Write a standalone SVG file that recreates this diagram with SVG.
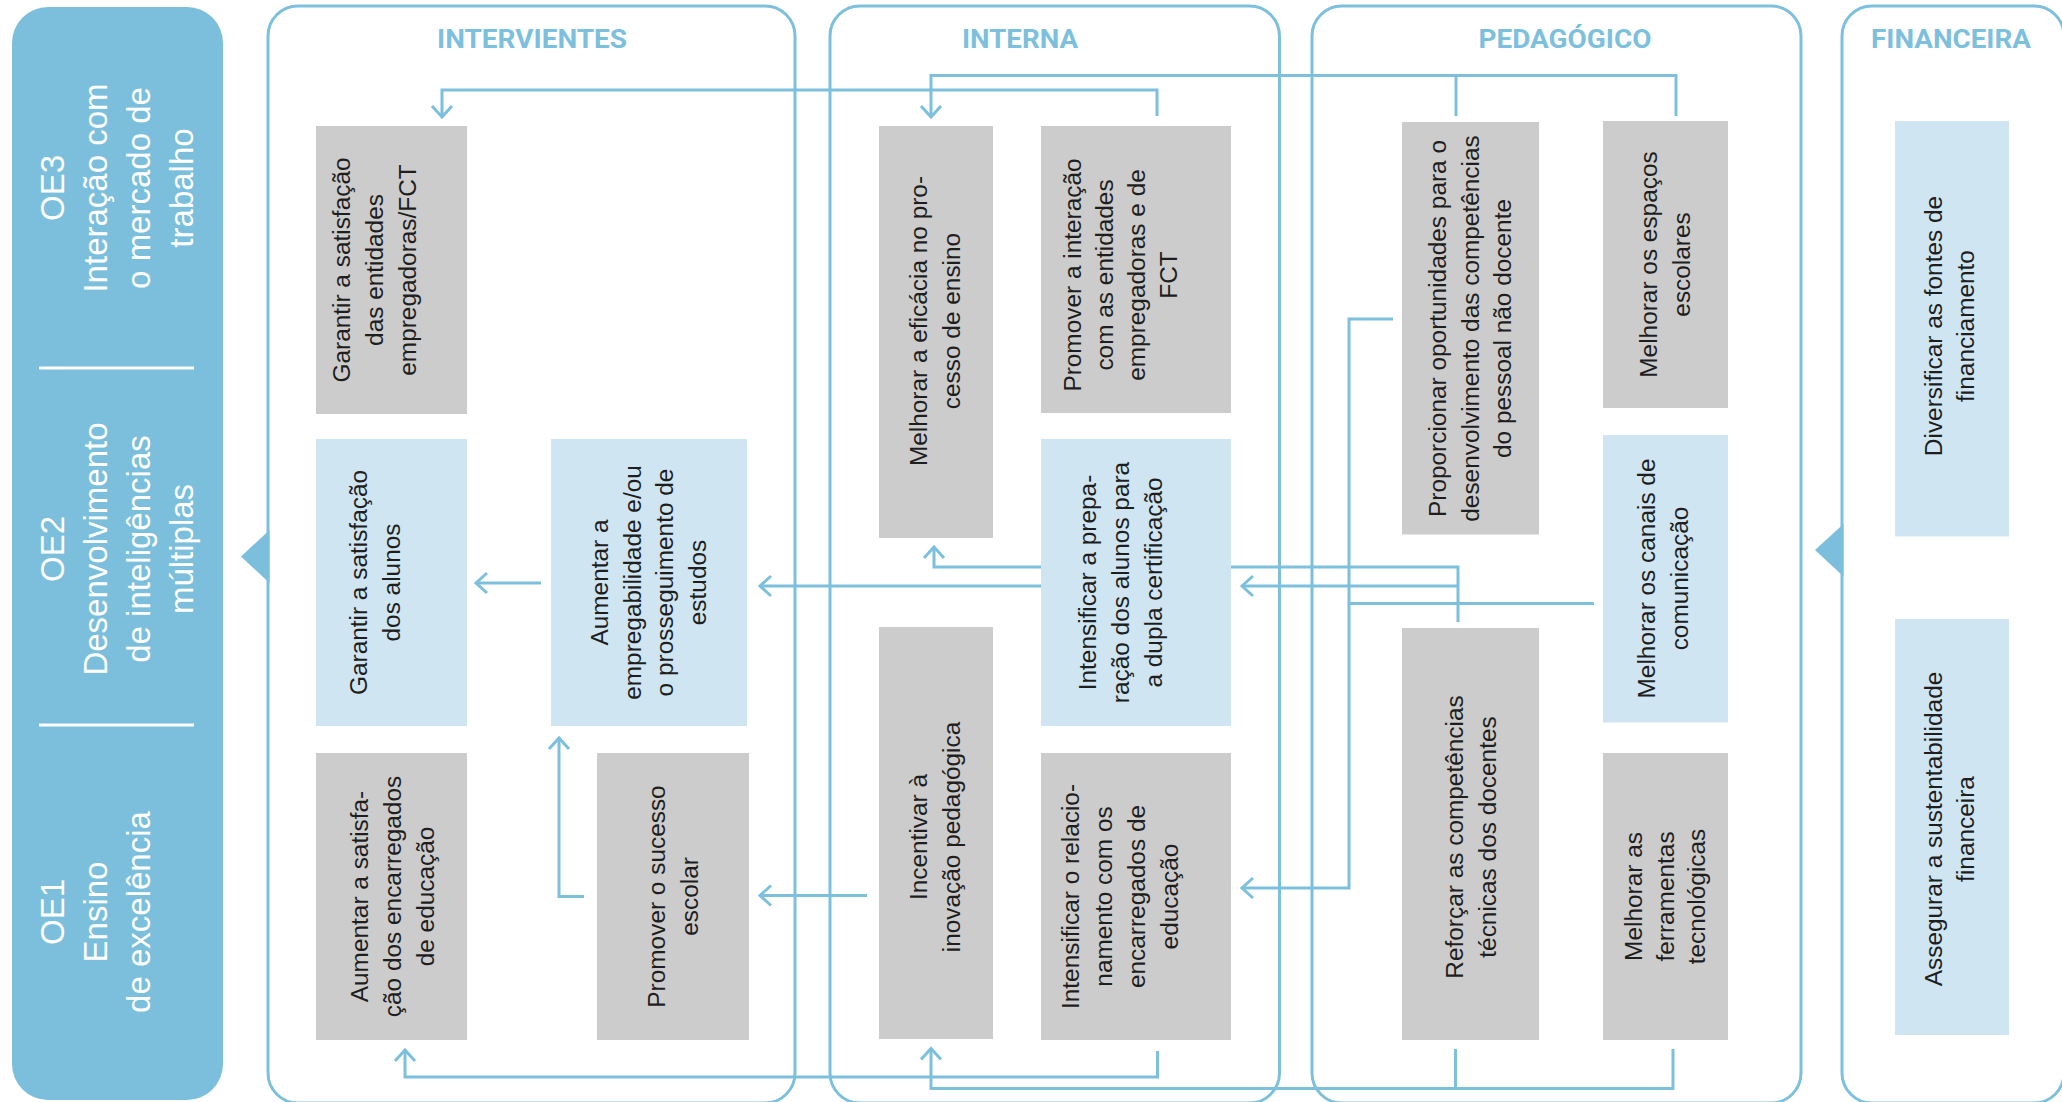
<svg xmlns="http://www.w3.org/2000/svg" width="2062" height="1102" viewBox="0 0 2062 1102">
<style>
.bg{fill:#ffffff}
.panel{fill:#7bbfdc}
.sep{stroke:#ffffff;stroke-width:3}
.oe{font-family:"Liberation Sans",Arial,sans-serif;font-size:33px;fill:#ffffff;text-anchor:middle}
.cont{fill:none;stroke:#7cc0de;stroke-width:3}
.notch{fill:#7bbfdc}
.title{font-family:Roboto,"Liberation Sans",sans-serif;font-weight:bold;font-size:26px;fill:#7cc0de;text-anchor:middle}
.g{fill:#cccccc}
.l{fill:#cfe5f2}
.t{font-family:"Liberation Sans",Arial,sans-serif;font-size:24.4px;fill:#1e1e1e;text-anchor:middle}
.c{fill:none;stroke:#7cc0de;stroke-width:3}
.a{marker-end:url(#ah)}
</style>
<defs>
<marker id="ah" markerUnits="userSpaceOnUse" viewBox="-14 -13 17 26" refX="0" refY="0" markerWidth="17" markerHeight="26" orient="auto">
<path d="M-11,-10 L0,0 L-11,10" fill="none" stroke="#7cc0de" stroke-width="3"/>
</marker>
</defs>
<rect class="bg" x="0" y="0" width="2062" height="1102"/>

<g id="objectives">
<rect class="panel" x="12" y="7" width="211" height="1093" rx="36"/>
<line class="sep" x1="39" y1="368" x2="194" y2="368"/>
<line class="sep" x1="39" y1="725" x2="194" y2="725"/>
<text class="oe" transform="translate(64,188) rotate(-90)"><tspan x="0" y="0">OE3</tspan><tspan x="0" y="43">Interação com</tspan><tspan x="0" y="86">o mercado de</tspan><tspan x="0" y="129">trabalho</tspan></text>
<text class="oe" transform="translate(64,549) rotate(-90)"><tspan x="0" y="0">OE2</tspan><tspan x="0" y="43">Desenvolvimento</tspan><tspan x="0" y="86">de inteligências</tspan><tspan x="0" y="129">múltiplas</tspan></text>
<text class="oe" transform="translate(64,912) rotate(-90)"><tspan x="0" y="0">OE1</tspan><tspan x="0" y="43">Ensino</tspan><tspan x="0" y="86">de excelência</tspan></text>
</g>

<g id="intervientes">
<rect class="cont" x="268" y="6" width="527" height="1097" rx="30"/>
<polygon class="notch" points="269.5,530 241,556.5 269.5,583"/>
<text class="title" x="532" y="47.5" textLength="190" lengthAdjust="spacingAndGlyphs">INTERVIENTES</text>
</g>
<g id="interna">
<rect class="cont" x="830" y="6" width="449.5" height="1097" rx="30"/>
<text class="title" x="1020" y="47.5" textLength="116" lengthAdjust="spacingAndGlyphs">INTERNA</text>
</g>
<g id="pedagogico">
<rect class="cont" x="1312" y="6" width="489" height="1097" rx="30"/>
<text class="title" x="1565" y="47.5" textLength="173" lengthAdjust="spacingAndGlyphs">PEDAGÓGICO</text>
</g>
<g id="financeira">
<rect class="cont" x="1842" y="6" width="222" height="1097" rx="30"/>
<polygon class="notch" points="1843.5,524 1815,550 1843.5,576.5"/>
<text class="title" x="1951" y="47.5" textLength="160" lengthAdjust="spacingAndGlyphs">FINANCEIRA</text>
</g>

<g id="connectors">
<path class="c a" d="M1157,116 V90 H442 V117"/>
<path class="c a" d="M1676,116 V75.5 H931 V117"/>
<path class="c" d="M1456,116 V75.5"/>
<path class="c a" d="M1458,622 V567 H934 V547"/>
<path class="c a" d="M1458,586 H1242"/>
<path class="c a" d="M1041,586 H760"/>
<path class="c a" d="M1393,319 H1349 V888 H1242"/>
<path class="c" d="M1594,603.5 H1349"/>
<path class="c a" d="M867,895.5 H760"/>
<path class="c a" d="M584,896.5 H559 V738"/>
<path class="c a" d="M541,583 H476"/>
<path class="c a" d="M1157.5,1051 V1077 H405 V1050"/>
<path class="c a" d="M1673,1049 V1088.5 H931 V1048.5"/>
<path class="c" d="M1455.5,1049 V1088.5"/>
</g>

<g id="n1">
<rect class="g" x="316" y="126" width="151" height="288"/>
<text class="t" transform="translate(350,270) rotate(-90)"><tspan x="0" y="0">Garantir a satisfação</tspan><tspan x="0" y="33">das entidades</tspan><tspan x="0" y="66">empregadoras/FCT</tspan></text>
</g>
<g id="n2">
<rect class="l" x="316" y="439" width="151" height="287"/>
<text class="t" transform="translate(367,582.5) rotate(-90)"><tspan x="0" y="0">Garantir a satisfação</tspan><tspan x="0" y="33">dos alunos</tspan></text>
</g>
<g id="n3">
<rect class="l" x="551" y="439" width="196" height="287"/>
<text class="t" transform="translate(608,582.5) rotate(-90)"><tspan x="0" y="0">Aumentar a</tspan><tspan x="0" y="32.5">empregabilidade e/ou</tspan><tspan x="0" y="65">o prosseguimento de</tspan><tspan x="0" y="97.5">estudos</tspan></text>
</g>
<g id="n4">
<rect class="g" x="316" y="753" width="151" height="287"/>
<text class="t" transform="translate(368,896.5) rotate(-90)"><tspan x="0" y="0">Aumentar a satisfa-</tspan><tspan x="0" y="33">ção dos encarregados</tspan><tspan x="0" y="66">de educação</tspan></text>
</g>
<g id="n5">
<rect class="g" x="597" y="753" width="152" height="287"/>
<text class="t" transform="translate(665,896.5) rotate(-90)"><tspan x="0" y="0">Promover o sucesso</tspan><tspan x="0" y="33">escolar</tspan></text>
</g>
<g id="n6">
<rect class="g" x="879" y="126" width="114" height="412"/>
<text class="t" transform="translate(927,321) rotate(-90)"><tspan x="0" y="0">Melhorar a eficácia no pro-</tspan><tspan x="0" y="33">cesso de ensino</tspan></text>
</g>
<g id="n7">
<rect class="g" x="1041" y="126" width="190" height="287"/>
<text class="t" transform="translate(1081,275) rotate(-90)"><tspan x="0" y="0">Promover a interação</tspan><tspan x="0" y="32">com as entidades</tspan><tspan x="0" y="64">empregadoras e de</tspan><tspan x="0" y="96">FCT</tspan></text>
</g>
<g id="n8">
<rect class="l" x="1041" y="439" width="190" height="287"/>
<text class="t" transform="translate(1096,582.5) rotate(-90)"><tspan x="0" y="0">Intensificar a prepa-</tspan><tspan x="0" y="33">ração dos alunos para</tspan><tspan x="0" y="66">a dupla certificação</tspan></text>
</g>
<g id="n9">
<rect class="g" x="879" y="627" width="114" height="412"/>
<text class="t" transform="translate(927,837) rotate(-90)"><tspan x="0" y="0">Incentivar à</tspan><tspan x="0" y="33">inovação pedagógica</tspan></text>
</g>
<g id="n10">
<rect class="g" x="1041" y="753" width="190" height="287"/>
<text class="t" transform="translate(1079,896.5) rotate(-90)"><tspan x="0" y="0">Intensificar o relacio-</tspan><tspan x="0" y="33">namento com os</tspan><tspan x="0" y="66">encarregados de</tspan><tspan x="0" y="99">educação</tspan></text>
</g>
<g id="n11">
<rect class="g" x="1402" y="122" width="137" height="412.5"/>
<text class="t" transform="translate(1446,328.5) rotate(-90)"><tspan x="0" y="0">Proporcionar oportunidades para o</tspan><tspan x="0" y="32.5">desenvolvimento das competências</tspan><tspan x="0" y="65">do pessoal não docente</tspan></text>
</g>
<g id="n12">
<rect class="g" x="1603" y="121" width="125" height="287"/>
<text class="t" transform="translate(1657,264.5) rotate(-90)"><tspan x="0" y="0">Melhorar os espaços</tspan><tspan x="0" y="33">escolares</tspan></text>
</g>
<g id="n13">
<rect class="l" x="1603" y="435" width="125" height="287.5"/>
<text class="t" transform="translate(1655,578.5) rotate(-90)"><tspan x="0" y="0">Melhorar os canais de</tspan><tspan x="0" y="33">comunicação</tspan></text>
</g>
<g id="n14">
<rect class="g" x="1402" y="628" width="137" height="412"/>
<text class="t" transform="translate(1463,837) rotate(-90)"><tspan x="0" y="0">Reforçar as competências</tspan><tspan x="0" y="33">técnicas dos docentes</tspan></text>
</g>
<g id="n15">
<rect class="g" x="1603" y="753" width="125" height="287"/>
<text class="t" transform="translate(1642,896.5) rotate(-90)"><tspan x="0" y="0">Melhorar as</tspan><tspan x="0" y="31.5">ferramentas</tspan><tspan x="0" y="63">tecnológicas</tspan></text>
</g>
<g id="n16">
<rect class="l" x="1895" y="121" width="114" height="415.5"/>
<text class="t" transform="translate(1942,326) rotate(-90)"><tspan x="0" y="0">Diversificar as fontes de</tspan><tspan x="0" y="32">financiamento</tspan></text>
</g>
<g id="n17">
<rect class="l" x="1895" y="619" width="114" height="416"/>
<text class="t" transform="translate(1942,829) rotate(-90)"><tspan x="0" y="0">Assegurar a sustentabilidade</tspan><tspan x="0" y="32">financeira</tspan></text>
</g>
</svg>
